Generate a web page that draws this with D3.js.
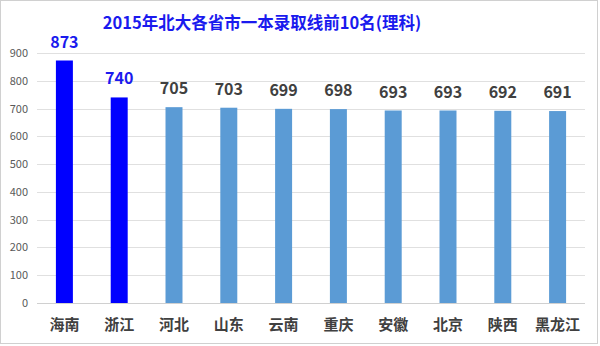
<!DOCTYPE html>
<html>
<head>
<meta charset="utf-8">
<script src="https://cdn.jsdelivr.net/npm/d3@7"></script>
<style>
  body { margin: 0; background: #fff; }
  svg { display: block; font-family: 'Noto Sans CJK SC', 'Open Sans', sans-serif; }
</style>
</head>
<body>
<svg id="chart" width="600" height="346"></svg>
<script>
const provinces = ['海南', '浙江', '河北', '山东', '云南', '重庆', '安徽', '北京', '陕西', '黑龙江'];
const scores = [873, 740, 705, 703, 699, 698, 693, 693, 692, 691];
const highlighted = ['海南', '浙江'];
const yTicks = [0, 100, 200, 300, 400, 500, 600, 700, 800, 900];

const svg = d3.select('#chart');
const width = +svg.attr('width');
const height = +svg.attr('height');

const margin = {top: 53, right: 15, bottom: 43, left: 37};

// outer frame
svg.append('rect')
  .attr('x', 0.5)
  .attr('y', 0.5)
  .attr('width', width - 3)
  .attr('height', height - 3)
  .attr('fill', '#fff')
  .attr('stroke', '#d0d0d0');

const x = d3.scaleBand()
  .domain(provinces)
  .range([margin.left, width - margin.right])
  .paddingInner(0.69)
  .paddingOuter(0.345);

const y = d3.scaleLinear()
  .domain([0, 900])
  .range([height - margin.bottom, margin.top]);

// gridlines
svg.append('g')
  .selectAll('line')
  .data(yTicks)
  .enter()
  .append('line')
  .attr('x1', margin.left)
  .attr('x2', width - margin.right)
  .attr('y1', (d) => Math.round(y(d)) + 0.5)
  .attr('y2', (d) => Math.round(y(d)) + 0.5)
  .attr('stroke', (d) => d === 0 ? '#d0d0d0' : '#e0e0e0');

// y tick labels
svg.append('g')
  .selectAll('text')
  .data(yTicks)
  .enter()
  .append('text')
  .attr('x', 28)
  .attr('y', (d) => y(d) + 4)
  .attr('text-anchor', 'end')
  .attr('font-size', 11)
  .attr('fill', '#595959')
  .text((d) => d);

const rows = provinces.map((p, i) => ({name: p, value: scores[i]}));

svg.append('g')
  .selectAll('rect')
  .data(rows)
  .enter()
  .append('rect')
  .attr('x', (d) => x(d.name))
  .attr('y', (d) => y(d.value))
  .attr('width', x.bandwidth())
  .attr('height', (d) => y(0) - y(d.value))
  .attr('fill', (d) => highlighted.includes(d.name) ? '#0000ff' : '#5b9bd5');

// value labels
svg.append('g')
  .selectAll('text')
  .data(rows)
  .enter()
  .append('text')
  .attr('x', (d) => x(d.name) + x.bandwidth() / 2)
  .attr('y', (d) => y(d.value) - 13)
  .attr('text-anchor', 'middle')
  .attr('font-size', 16)
  .attr('font-weight', 'bold')
  .attr('fill', (d) => highlighted.includes(d.name) ? '#1a1aee' : '#404040')
  .text((d) => d.value);

// category labels
svg.append('g')
  .selectAll('text')
  .data(provinces)
  .enter()
  .append('text')
  .attr('x', (d) => x(d) + x.bandwidth() / 2)
  .attr('y', 330)
  .attr('text-anchor', 'middle')
  .attr('font-size', 15)
  .attr('font-weight', 'bold')
  .attr('fill', '#404040')
  .text((d) => d);

// title
svg.append('text')
  .attr('x', 262)
  .attr('y', 29)
  .attr('text-anchor', 'middle')
  .attr('font-size', 16.5)
  .attr('font-weight', 'bold')
  .attr('fill', '#1a1aee')
  .text('2015年北大各省市一本录取线前10名(理科)');
</script>
</body>
</html>
